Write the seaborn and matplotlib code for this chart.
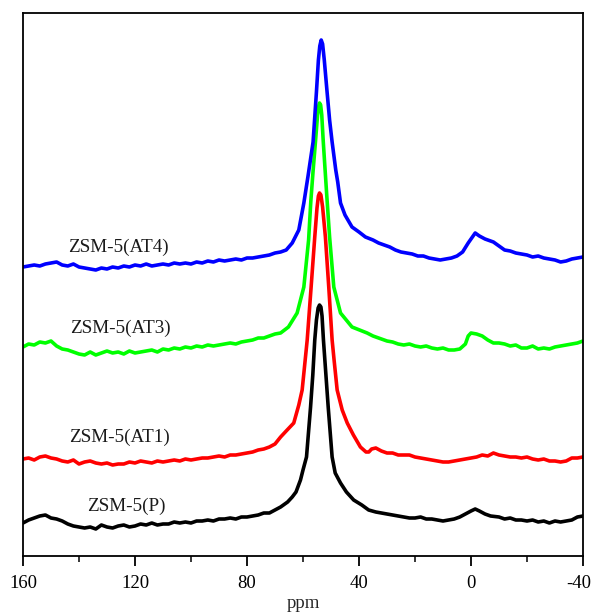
import numpy as np
import pandas as pd
import matplotlib
matplotlib.use("Agg")
import matplotlib.pyplot as plt
import matplotlib.transforms as mtransforms
import seaborn as sns
from matplotlib.ticker import FixedLocator, FixedFormatter

# ---------------- data ----------------
base_left = [160, 158, 156, 154, 152, 150, 148, 146, 144, 142, 140, 138, 136, 134, 132, 130,
             128, 126, 124, 122, 120, 118, 116, 114, 112, 110, 108, 106, 104, 102, 100, 98,
             96, 94, 92, 90, 88, 86, 84, 82, 80, 78, 76, 74, 72, 70, 68]

p_ppm = base_left + [67, 65.5, 63.85, 62.5, 60.9, 60, 58.75, 57.3, 56.5, 55.8, 55.2, 54.6, 54.1,
                     53.6, 53.2, 52.7, 51.0, 49.6, 48.5, 46.6, 44.5, 41.9, 39, 36.55, 34, 32, 30,
                     28, 26, 24, 22, 20, 18, 16, 14, 12, 10, 8, 6, 4, 2, 0, -1.5, -3, -5, -7,
                     -10, -12, -14, -16, -18, -20, -22, -24, -26, -28, -30, -32, -34, -36, -38, -40]
p_int = [33, 36, 38, 40, 41, 38, 37, 35, 32, 30, 29, 28, 29, 27, 31, 29, 28, 30, 31, 29, 30, 32,
         31, 33, 31, 32, 32, 34, 33, 34, 33, 35, 35, 36, 35, 37, 37, 38, 37, 39, 39, 40, 41, 43,
         43, 46, 49,
         51, 54, 59, 64, 76, 86, 99, 149, 181, 216, 236, 248, 251, 249, 240, 216, 149, 99, 83, 73,
         64, 56, 51, 46, 44, 43, 42, 41, 40, 39, 38, 38, 39, 37, 37, 36, 35, 36, 37, 39, 42, 45,
         47, 45, 42, 40, 39, 37, 38, 36, 36, 35, 36, 34, 35, 33, 35, 34, 35, 36, 39, 40]

at1_ppm = base_left + [66, 63.3, 61.5, 60.3, 58.5, 57.1, 55.8, 55.0, 54.5, 54.1, 53.6, 53.0, 52.0,
                       50.8, 49.6, 48.9, 47.8, 46, 44.2, 42, 39.5, 37.5, 36.5, 35.5, 34, 32, 30,
                       28, 26, 24, 22, 20, 18, 16, 14, 12, 10, 8, 6, 4, 2, 0, -2, -4, -6, -8,
                       -10, -12, -14, -16, -18, -20, -22, -24, -26, -28, -30, -32, -34, -36, -38, -40]
at1_int = [97, 98, 96, 99, 100, 98, 97, 95, 94, 96, 92, 94, 95, 93, 92, 93, 91, 92, 92, 94, 93,
           95, 94, 93, 95, 94, 95, 96, 95, 97, 96, 97, 98, 98, 99, 100, 99, 101, 101, 102, 103,
           104, 106, 107, 109, 112, 119,
           125, 133, 151, 166, 216, 269, 319, 348, 360, 363, 361, 349, 319, 269, 216, 196, 166,
           146, 133, 121, 109, 104, 104, 107, 108, 105, 103, 103, 101, 101, 101, 99, 98, 97, 96,
           95, 94, 94, 95, 96, 97, 98, 99, 101, 100, 103, 101, 100, 99, 99, 98, 99, 97, 96, 97,
           95, 95, 94, 95, 98, 98, 99]

at3_ppm = base_left + [65.2, 62.1, 59.7, 58.0, 57.2, 56.4, 55.5, 54.8, 54.3, 54.1, 53.7, 53.3,
                       52.8, 52.2, 51.5, 50.5, 49.0, 46.6, 42.5, 37.1, 35, 32, 30, 28, 26, 24,
                       22, 20, 18, 16, 14, 12, 10, 8, 6, 4, 2, 1, 0, -2, -4, -6, -8, -10, -12,
                       -14, -16, -18, -20, -22, -24, -26, -28, -30, -32, -34, -36, -38, -40]
at3_int = [209, 212, 211, 214, 213, 215, 210, 207, 206, 204, 202, 201, 204, 201, 203, 205, 203,
           204, 202, 205, 203, 204, 205, 206, 204, 207, 206, 208, 207, 209, 208, 210, 209, 211,
           210, 211, 212, 213, 212, 214, 215, 216, 218, 218, 220, 222, 223,
           229, 243, 269, 316, 355, 385, 416, 441, 451, 453, 451, 441, 416, 390, 360, 319, 269,
           243, 229, 223, 220, 217, 215, 214, 212, 211, 212, 210, 209, 210, 208, 207, 208, 206,
           206, 207, 212, 220, 223, 222, 220, 216, 213, 213, 212, 210, 211, 208, 208, 210, 207,
           208, 207, 209, 210, 211, 212, 213, 215]

at4_ppm = base_left + [66, 63.85, 61.5, 59.7, 58.2, 56.4, 55.2, 54.5, 54.0, 53.5, 53.0, 52.4,
                       51.4, 50.5, 49.6, 48.3, 47.6, 46.6, 45, 42.5, 40, 37.7, 35, 33, 31, 29,
                       27, 25, 23, 21, 19, 17, 15, 13, 11, 9, 7, 5, 3, 1, -1.5, -3, -5, -8, -10,
                       -12, -14, -16, -18, -20, -22, -24, -26, -28, -30, -32, -34, -36, -38, -40]
at4_int = [289, 290, 291, 290, 292, 293, 294, 291, 290, 292, 289, 288, 287, 286, 288, 287, 289,
           288, 290, 289, 291, 290, 292, 290, 291, 292, 291, 293, 292, 293, 292, 294, 293, 295,
           294, 296, 295, 296, 297, 296, 298, 298, 299, 300, 301, 303, 304,
           306, 313, 326, 353, 380, 414, 464, 496, 510, 516, 512, 496, 464, 436, 414, 386, 374,
           353, 341, 329, 324, 319, 316, 313, 311, 309, 306, 304, 303, 302, 300, 300, 298, 297,
           296, 297, 298, 300, 304, 313, 323, 320, 317, 314, 310, 306, 305, 303, 302, 301, 299,
           300, 298, 297, 296, 294, 295, 297, 298, 299]

labels = ["ZSM-5(P)", "ZSM-5(AT1)", "ZSM-5(AT3)", "ZSM-5(AT4)"]
colors = ["#000000", "#ff0000", "#00ff00", "#0000ff"]
major_ticks = [160, 120, 80, 40, 0, -40]
major_labels = ["160", "120", "80", "40", "0", "-40"]
minor_ticks = [140, 100, 60, 20, -20]

# ---------------- figure ----------------
sns.set_theme(style="white")
plt.rcParams["font.family"] = ["Liberation Serif", "DejaVu Serif"]
plt.rcParams["axes.unicode_minus"] = False

fig = plt.figure(figsize=(5.93, 6.15), dpi=100)
ax = fig.add_axes([23 / 593, 59 / 615, 560 / 593, 543 / 615])

series = [(p_ppm, p_int), (at1_ppm, at1_int), (at3_ppm, at3_int), (at4_ppm, at4_int)]
frames = []
for lab, (xs, ys) in zip(labels, series):
    frames.append(pd.DataFrame({"ppm": xs, "intensity": ys, "sample": lab}))
df = pd.concat(frames, ignore_index=True)

sns.lineplot(data=df, x="ppm", y="intensity", hue="sample", hue_order=labels,
             palette=colors, estimator=None, sort=True, linewidth=2.6, legend=False, ax=ax)

ax.set_xlim(160, -40)
ax.set_ylim(0, 543)

# sample labels
label_pos = [(123.0, 50), (125.4, 119), (125.1, 228), (125.8, 309)]
for lab, (xp, yp) in zip(labels, label_pos):
    ax.text(xp, yp, lab, ha="center", va="center", fontsize=13.8, color="#1a1a1a")

ax.xaxis.set_major_locator(FixedLocator(major_ticks))
ax.xaxis.set_major_formatter(FixedFormatter(major_labels))
ax.xaxis.set_minor_locator(FixedLocator(minor_ticks))
ax.set_yticks([])
ax.tick_params(axis="x", which="major", direction="out", length=7.5, width=1.3,
               labelsize=13.5, pad=6, colors="black", bottom=True)
ax.tick_params(axis="x", which="minor", direction="out", length=4.5, width=1.3, bottom=True)
ax.set_xlabel("ppm", fontsize=13.5, labelpad=2.5)
ax.set_ylabel("")
for s in ax.spines.values():
    s.set_visible(True)
    s.set_color("black")
    s.set_linewidth(1.3)

# nudge the last tick label so it stays inside the figure, as in the reference
fig.canvas.draw()
last = ax.get_xticklabels()[-1]
last.set_transform(last.get_transform() + mtransforms.ScaledTranslation(-4 / 100, 0, fig.dpi_scale_trans))

fig.savefig("out.png", dpi=100)
